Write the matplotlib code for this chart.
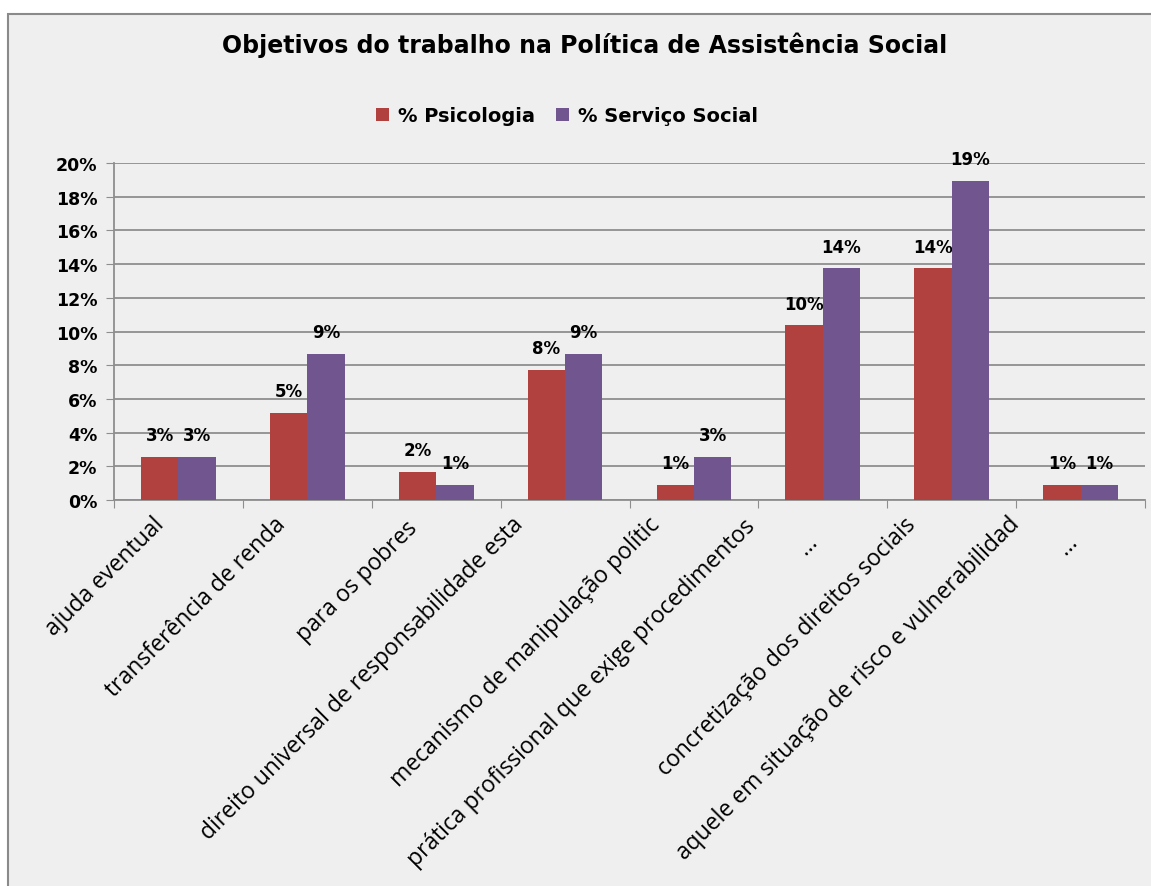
import matplotlib.pyplot as plt
from matplotlib.patches import Rectangle
import numpy as np

# values (percent)
psicologia = [2.56, 5.18, 1.67, 7.74, 0.89, 10.36, 13.75, 0.89]
servico_social = [2.56, 8.69, 0.89, 8.69, 2.56, 13.75, 18.93, 0.89]

series_names = ["% Psicologia", "% Serviço Social"]
colors = ["#B0413F", "#71558F"]

# category labels as they appear (Excel cut some of them)
cat_labels = [
    "ajuda eventual",
    "transferência de renda",
    "para os pobres",
    "direito universal de responsabilidade esta",
    "mecanismo de manipulação polític",
    "prática profissional que exige procedimentos",
    "…",
    "concretização dos direitos sociais",
    "aquele em situação de risco e vulnerabilidad",
    "…",
]
# where each rotated label ends (x in category units, y below the axis)
label_x = [-0.2, 0.74, 1.76, 2.58, 3.64, 4.38, 4.86, 5.63, 6.43, 6.88]
label_y = [-0.7, -0.7, -0.95, -0.7, -0.7, -0.85, -1.75, -0.7, -0.7, -1.75]

bg = "#EFEFEF"


def main():
    fig = plt.figure(figsize=(11.51, 8.87), dpi=100, facecolor="white")
    fig.patches.append(Rectangle((8 / 1151, -0.01), 1.0, 1 - 15 / 887 + 0.01,
                                 transform=fig.transFigure, facecolor=bg,
                                 edgecolor="#8A8A8A", linewidth=1.5, zorder=-10))

    ax = fig.add_axes([114 / 1151, 1 - 501 / 887, (1145 - 114) / 1151, (501 - 164) / 887])
    ax.set_facecolor(bg)

    x = np.arange(len(psicologia))
    w = 0.29
    for i, (vals, name, c) in enumerate(zip([psicologia, servico_social], series_names, colors)):
        pos = x + (i - 0.5) * w
        bars = ax.bar(pos, vals, width=w, color=c, label=name, zorder=3)
        for b, v in zip(bars, vals):
            ax.text(b.get_x() + b.get_width() / 2, v + 0.75, f"{v:.0f}%",
                    ha="center", va="bottom", fontsize=12, fontweight="bold")

    ax.set_ylim(0, 20)
    ax.set_xlim(-0.5, len(psicologia) - 0.5)
    ax.set_yticks(np.arange(0, 21, 2))
    ax.set_yticklabels([f"{t}%" for t in range(0, 21, 2)], fontsize=12.5, fontweight="bold")
    ax.yaxis.grid(True, color="#8E8E8E", linewidth=1.3, zorder=0)
    ax.tick_params(axis="y", length=6, color="#8E8E8E", pad=6)

    # ticks at group boundaries, labels placed separately
    ax.set_xticks(np.arange(-0.5, len(psicologia), 1))
    ax.set_xticklabels([])
    ax.tick_params(axis="x", length=6, color="#8E8E8E")
    for px, py, lab in zip(label_x, label_y, cat_labels):
        ax.text(px, py, lab, rotation=45, rotation_mode="anchor",
                ha="right", va="top", fontsize=16.5, family="Open Sans")

    for s in ["top", "right"]:
        ax.spines[s].set_visible(False)
    ax.spines["left"].set_color("#8E8E8E")
    ax.spines["bottom"].set_color("#8E8E8E")
    ax.spines["left"].set_linewidth(1.3)
    ax.spines["bottom"].set_linewidth(1.3)

    fig.text(585 / 1151, 1 - 45 / 887, "Objetivos do trabalho na Política de Assistência Social",
             ha="center", va="center", fontsize=17, fontweight="bold")
    fig.legend(loc="center", bbox_to_anchor=(567 / 1151, 1 - 117 / 887), ncol=2,
               frameon=False, prop={"weight": "bold", "size": 14},
               handlelength=0.65, handleheight=0.65, columnspacing=1.1, handletextpad=0.45)

    fig.savefig("out.png", dpi=100, facecolor="white")


if __name__ == "__main__":
    main()
